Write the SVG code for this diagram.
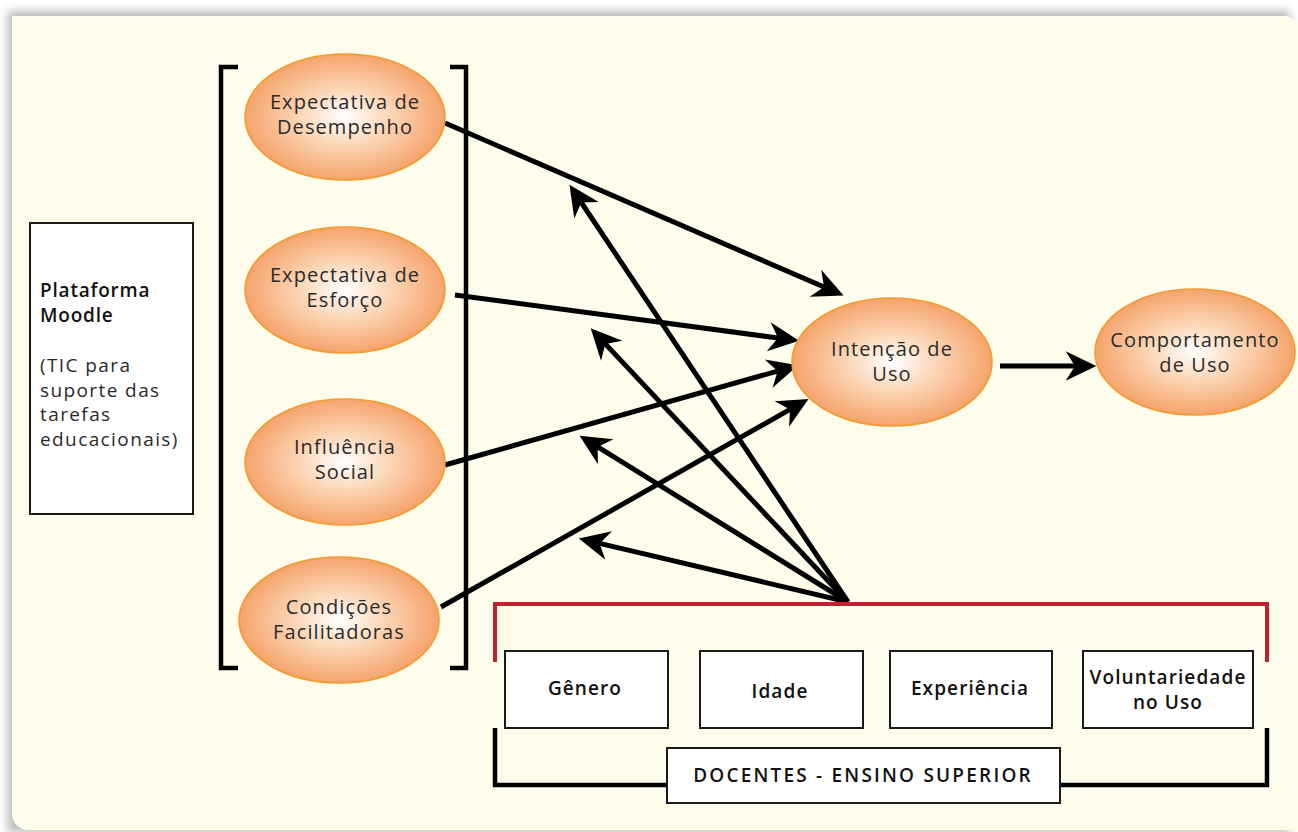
<svg xmlns="http://www.w3.org/2000/svg" width="1298" height="832" viewBox="0 0 1298 832">
<style>
.lbl{font-family:"Open Sans","Liberation Sans",sans-serif;font-size:20px;letter-spacing:1.1px;fill:#2a2a2a;text-anchor:middle}
.mt{font-family:"Open Sans","Liberation Sans",sans-serif;font-size:19px;letter-spacing:1.4px;fill:#2a2a2a}
.mb{font-family:"Open Sans","Liberation Sans",sans-serif;font-size:19px;letter-spacing:0.8px;font-weight:600;fill:#111}
.bold{font-family:"Open Sans","Liberation Sans",sans-serif;font-size:19px;letter-spacing:1.1px;font-weight:600;fill:#111;text-anchor:middle}
.caps{letter-spacing:2.2px}
.ell{fill:url(#og);stroke:#F39A2E;stroke-width:1.6}
.box{fill:#fff;stroke:#1a1a1a;stroke-width:2}
.arr{stroke:#000;stroke-width:5;fill:none;marker-end:url(#ah)}
.brk{stroke:#000;stroke-width:4.5;fill:none}
</style>
<defs>
<radialGradient id="og" cx="0.5" cy="0.5" r="0.5">
<stop offset="0" stop-color="#FFFFFF"/>
<stop offset="0.45" stop-color="#FBD6B6"/>
<stop offset="1" stop-color="#F5A46C"/>
</radialGradient>
<filter id="sh" x="-5%" y="-5%" width="110%" height="110%">
<feGaussianBlur stdDeviation="5"/>
</filter>
<marker id="ah" markerUnits="userSpaceOnUse" markerWidth="40" markerHeight="40" viewBox="-10 -15 30 30" refX="0" refY="0" orient="auto">
<path d="M16,0 L-7,-11 L0,0 L-7,11 Z" fill="#000"/>
</marker>
</defs>
<rect width="1298" height="832" fill="#ffffff"/>
<path d="M8,11 H1290 V832 H8 Z" fill="#9a9a9a" opacity="0.7" filter="url(#sh)"/>
<path d="M12,16 H1284 A16,16 0 0 1 1300,32 V830 H28 A16,16 0 0 1 12,814 Z" fill="#FEFDEC"/>

<g id="brackets">
<path class="brk" d="M238,67 H221 V668 H238"/>
<path class="brk" d="M450,67 H466 V668 H450"/>
</g>

<g id="moodle">
<rect class="box" x="30" y="223" width="163" height="291"/>
<text class="mb" x="40" y="297">Plataforma</text>
<text class="mb" x="40" y="322">Moodle</text>
<text class="mt" x="40" y="372">(TIC para</text>
<text class="mt" x="40" y="397">suporte das</text>
<text class="mt" x="40" y="421">tarefas</text>
<text class="mt" x="40" y="446">educacionais)</text>
</g>

<g id="connectors">
<line class="arr" x1="445" y1="123" x2="824" y2="287"/>
<line class="arr" x1="455" y1="295" x2="778" y2="338"/>
<line class="arr" x1="445" y1="465" x2="777.6" y2="371.1"/>
<line class="arr" x1="441" y1="607" x2="790" y2="409.4"/>
<line class="arr" x1="848" y1="602" x2="581.3" y2="202.5"/>
<line class="arr" x1="848" y1="602" x2="605.3" y2="343.9"/>
<line class="arr" x1="848" y1="602" x2="597.7" y2="446.9"/>
<line class="arr" x1="848" y1="602" x2="599.6" y2="543.4"/>
<line class="arr" x1="1000" y1="366" x2="1075" y2="366"/>
</g>

<g id="n-desempenho">
<ellipse class="ell" cx="345" cy="117" rx="100" ry="63"/>
<text class="lbl" x="345" y="109">Expectativa de</text>
<text class="lbl" x="345" y="134">Desempenho</text>
</g>
<g id="n-esforco">
<ellipse class="ell" cx="345" cy="290" rx="100" ry="63"/>
<text class="lbl" x="345" y="282">Expectativa de</text>
<text class="lbl" x="345" y="307">Esforço</text>
</g>
<g id="n-social">
<ellipse class="ell" cx="345" cy="462" rx="100" ry="63"/>
<text class="lbl" x="345" y="454">Influência</text>
<text class="lbl" x="345" y="479">Social</text>
</g>
<g id="n-condicoes">
<ellipse class="ell" cx="339" cy="620" rx="100" ry="63"/>
<text class="lbl" x="339" y="614">Condições</text>
<text class="lbl" x="339" y="639">Facilitadoras</text>
</g>
<g id="n-intencao">
<ellipse class="ell" cx="892" cy="362" rx="100" ry="64"/>
<text class="lbl" x="892" y="356">Intenção de</text>
<text class="lbl" x="892" y="381">Uso</text>
</g>
<g id="n-comportamento">
<ellipse class="ell" cx="1195" cy="352" rx="100" ry="63"/>
<text class="lbl" x="1195" y="347">Comportamento</text>
<text class="lbl" x="1195" y="372">de Uso</text>
</g>

<g id="moderators-bracket">
<path d="M495,662 V604 H1267 V662" fill="none" stroke="#C1202F" stroke-width="4"/>
<path class="brk" d="M495,728 V785 H1267 V728"/>
</g>

<g id="m-genero">
<rect class="box" x="505" y="651" width="163" height="77"/>
<text class="bold" x="585" y="695">Gênero</text>
</g>
<g id="m-idade">
<rect class="box" x="700" y="651" width="163" height="77"/>
<text class="bold" x="780" y="698">Idade</text>
</g>
<g id="m-experiencia">
<rect class="box" x="890" y="651" width="162" height="77"/>
<text class="bold" x="970" y="695">Experiência</text>
</g>
<g id="m-voluntariedade">
<rect class="box" x="1083" y="651" width="170" height="77"/>
<text class="bold" x="1168" y="684">Voluntariedade</text>
<text class="bold" x="1168" y="709">no Uso</text>
</g>
<g id="docentes">
<rect class="box" x="667" y="748" width="393" height="55"/>
<text class="bold caps" x="863" y="782">DOCENTES - ENSINO SUPERIOR</text>
</g>
</svg>
